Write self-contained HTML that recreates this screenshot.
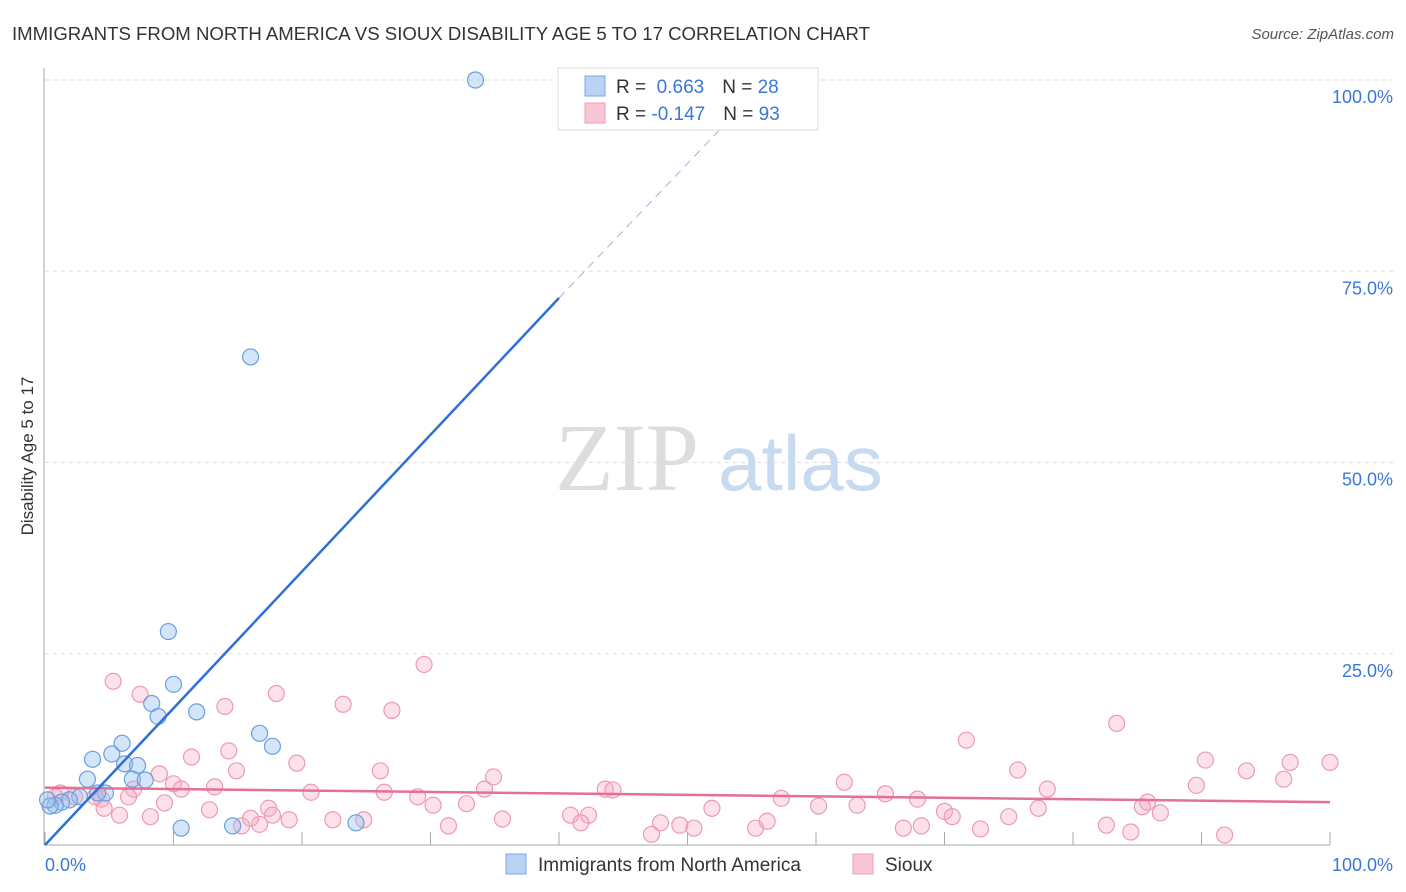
<!DOCTYPE html>
<html><head><meta charset="utf-8"><style>
body{margin:0;background:#fff;font-family:"Liberation Sans",sans-serif;}
svg{display:block}
</style></head><body>
<svg id="chart" width="1406" height="892">
<text x="12" y="40" font-size="18" fill="#333" textLength="858" lengthAdjust="spacingAndGlyphs">IMMIGRANTS FROM NORTH AMERICA VS SIOUX DISABILITY AGE 5 TO 17 CORRELATION CHART</text>
<text x="1394" y="39" font-size="15" fill="#555" font-style="italic" text-anchor="end">Source: ZipAtlas.com</text>
<text transform="translate(33,456) rotate(-90)" font-size="17" fill="#333" text-anchor="middle">Disability Age 5 to 17</text>
<g id="grid"></g>
<text x="555" y="490" font-size="96" fill="#ddd" font-family="Liberation Serif,serif">ZIP</text>
<text x="718" y="490" font-size="78" fill="#c8daf0">atlas</text>
<g id="marks"></g>
<g>
<rect x="558" y="68" width="260" height="62" fill="#fff" stroke="#ddd"/>
<rect x="585" y="76" width="20" height="20" fill="#b8d3f5" stroke="#7aa8e0"/>
<rect x="585" y="103" width="20" height="20" fill="#f9c6d6" stroke="#eba0b8"/>
<text x="616" y="93" font-size="19" fill="#333">R = <tspan fill="#3a78d8">&#160;0.663</tspan><tspan dx="18">N = </tspan><tspan fill="#3a78d8">28</tspan></text>
<text x="616" y="120" font-size="19" fill="#333">R = <tspan fill="#3a78d8">-0.147</tspan><tspan dx="18">N = </tspan><tspan fill="#3a78d8">93</tspan></text>
</g>
<g>
<rect x="506" y="854" width="20" height="20" fill="#b8d3f5" stroke="#7aa8e0"/>
<text x="538" y="871" font-size="19" fill="#333">Immigrants from North America</text>
<rect x="853" y="854" width="20" height="20" fill="#f9c6d6" stroke="#eba0b8"/>
<text x="885" y="871" font-size="19" fill="#333">Sioux</text>
</g>
</svg>
<script>
const yTicks=[25,50,75,100];
const yTickLabels=["25.0%","50.0%","75.0%","100.0%"];
const blueX=[33.5,16,9.6,10,8.3,8.8,11.8,16.7,17.7,6,5.2,3.7,6.2,7.2,3.3,6.8,7.8,4.7,4.1,2.7,1.9,1.3,0.8,0.4,10.6,14.6,24.2,0.2];
const blueY=[100,63.8,27.9,21,18.5,16.8,17.4,14.6,12.9,13.3,11.9,11.2,10.6,10.4,8.6,8.6,8.5,6.8,6.8,6.3,5.9,5.6,5.2,5.1,2.2,2.5,2.9,5.9];
const pinkX=[5.3,7.4,18,29.5,14,23.2,27,83.4,71.7,11.4,14.3,19.6,14.9,26.1,8.9,34.9,75.7,90.3,93.5,96.9,100,96.4,89.6,62.2,78,10,10.6,13.2,6.9,34.2,43.6,44.2,26.4,20.7,65.4,6.5,4.4,9.3,29,30.2,32.8,57.3,67.9,51.9,60.2,63.2,85.8,85.4,77.3,70,70.6,4.6,5.8,8.2,12.8,17.4,17.7,19,16.7,15.3,16,22.4,24.8,35.6,31.4,40.9,42.3,41.7,47.9,49.4,50.5,47.2,55.3,56.2,66.8,68.2,72.8,75,82.6,84.5,86.8,91.8,1.2,2.3,3.9,0.8];
const pinkY=[21.4,19.7,19.8,23.6,18.1,18.4,17.6,15.9,13.7,11.5,12.3,10.7,9.7,9.7,9.3,8.9,9.8,11.1,9.7,10.8,10.8,8.6,7.8,8.2,7.3,8,7.3,7.6,7.3,7.3,7.3,7.2,6.9,6.9,6.7,6.3,6,5.5,6.3,5.2,5.4,6.1,6,4.8,5.1,5.2,5.6,5,4.8,4.4,3.7,4.8,3.9,3.7,4.6,4.8,3.9,3.3,2.7,2.5,3.5,3.3,3.3,3.4,2.5,3.9,3.9,2.9,2.9,2.6,2.2,1.4,2.2,3.1,2.2,2.5,2.1,3.7,2.6,1.7,4.2,1.3,6.8,6.3,6.3,6.3];
const blueLine={x0:0,y0:0,x1:40,y1:71.5,x2:54.5,y2:97};
const pinkLine={x0:0,y0:7.5,x1:100,y1:5.6};
const NS="http://www.w3.org/2000/svg";
const X0=45,X1=1330,Y0=845,Y1=80;
const sx=v=>X0+(X1-X0)*v/100, sy=v=>Y0-(Y0-Y1)*v/100;
function mk(t,a,p){const e=document.createElementNS(NS,t);for(const k in a)e.setAttribute(k,a[k]);p.appendChild(e);return e;}
const grid=document.getElementById('grid'),marks=document.getElementById('marks');
yTicks.forEach((t,i)=>{
 const l=mk('line',{x1:X0,x2:1394,y1:sy(t),y2:sy(t),stroke:'#ddd','stroke-dasharray':'4,4'},grid);
 
 
 const tx=mk('text',{x:1393,y:sy(t)+23,'font-size':18,fill:'#3a78d8','text-anchor':'end'},grid);
 tx.textContent=yTickLabels[i];
 
 
});
const ya=mk('line',{x1:44,x2:44,y1:68,y2:Y0,stroke:'#aaa'},grid);


const xa=mk('line',{x1:44,x2:X1,y1:Y0,y2:Y0,stroke:'#aaa'},grid);


for(let i=0;i<=10;i++){const t=mk('line',{x1:sx(i*10),x2:sx(i*10),y1:Y0,y2:Y0-13,stroke:'#aaa'},grid);
 
 }
[["0.0%",45,'start'],["100.0%",1393,'end']].forEach(d=>{const t=mk('text',{x:d[1],y:871,'font-size':18,fill:'#3a78d8','text-anchor':d[2]},grid);t.textContent=d[0];
 
 });
pinkX.forEach((v,i)=>{const c=mk('circle',{cx:sx(v),cy:sy(pinkY[i]),r:8,fill:'rgba(246,170,195,0.35)',stroke:'#eb9ab5','stroke-width':1.2},marks);
 
 });
blueX.forEach((v,i)=>{const c=mk('circle',{cx:sx(v),cy:sy(blueY[i]),r:8,fill:'rgba(150,190,240,0.4)',stroke:'#6a9fe0','stroke-width':1.2},marks);
 
 });
const pl=mk('line',{x1:sx(pinkLine.x0),y1:sy(pinkLine.y0),x2:sx(pinkLine.x1),y2:sy(pinkLine.y1),stroke:'#e4709a','stroke-width':2.5},marks);


const bl=mk('line',{x1:sx(blueLine.x0),y1:sy(blueLine.y0),x2:sx(blueLine.x1),y2:sy(blueLine.y1),stroke:'#2f6fd8','stroke-width':2.5},marks);


const bd=mk('line',{x1:sx(blueLine.x1),y1:sy(blueLine.y1),x2:sx(blueLine.x2),y2:sy(blueLine.y2),stroke:'#9ab8e0','stroke-width':1,'stroke-dasharray':'8,6'},marks);


</script>
</body></html>
